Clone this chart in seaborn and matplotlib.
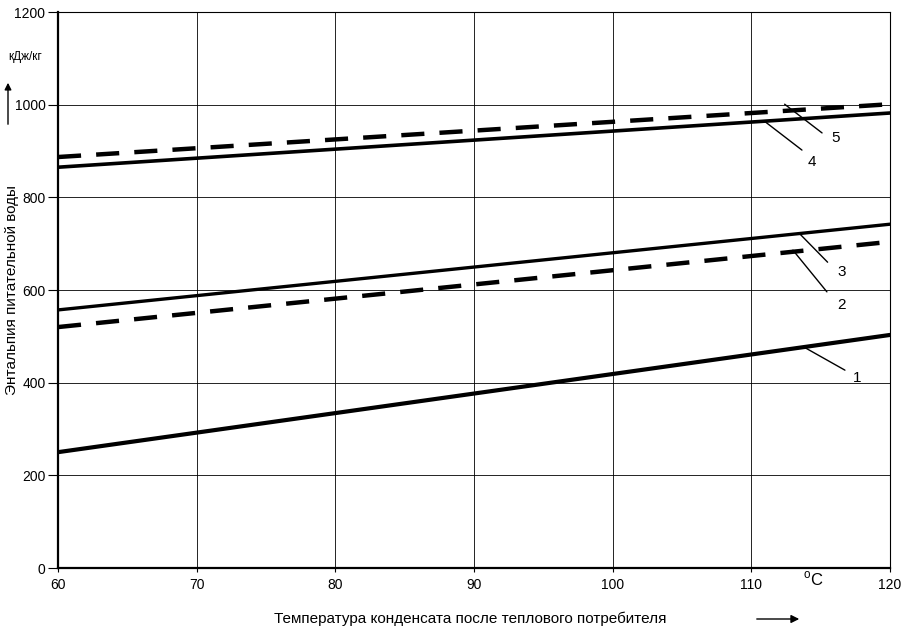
import matplotlib
matplotlib.use("Agg")
import matplotlib.pyplot as plt
import seaborn as sns
import pandas as pd

# Data
temps = [60, 120]
curve1 = [250, 503]
curve2 = [520, 704]
curve3 = [557, 742]
curve4 = [865, 982]
curve5 = [887, 1001]
curve_names = ["1", "2", "3", "4", "5"]
x_ticks = [60, 70, 80, 90, 100, 110, 120]
y_ticks = [0, 200, 400, 600, 800, 1000, 1200]

sns.set_theme(style="white")
plt.rcParams['font.family'] = ['Liberation Sans', 'DejaVu Sans']

rows = []
for name, vals in zip(curve_names, [curve1, curve2, curve3, curve4, curve5]):
    for t, v in zip(temps, vals):
        rows.append({"t": t, "h": v, "curve": name})
df = pd.DataFrame(rows)

fig = plt.figure(figsize=(9.1, 6.3), dpi=100)
ax = fig.add_axes([58/910, 62/630, 832/910, 556/630])

dash_map = {"1": "", "2": (5.2, 3.4), "3": "", "4": "", "5": (5.2, 3.4)}
lw_map = {"1": 3.0, "2": 3.2, "3": 2.4, "4": 2.6, "5": 3.2}
for name in curve_names:
    sub = df[df.curve == name]
    sns.lineplot(data=sub, x="t", y="h", ax=ax, color="black",
                 lw=lw_map[name], legend=False,
                 **({} if dash_map[name] == "" else {"linestyle": (0, dash_map[name])}))

ax.set_xlim(60, 120)
ax.set_ylim(0, 1200)
ax.set_xticks(x_ticks)
ax.set_yticks(y_ticks)
ax.tick_params(axis='y', labelsize=10, colors='black', length=7, width=0.8,
               pad=2, left=True)
ax.tick_params(axis='x', labelsize=10, colors='black', length=3, width=0.8,
               pad=4, bottom=True)
ax.grid(True, color='black', lw=0.6)
for s in ['left', 'bottom']:
    ax.spines[s].set_color('black')
    ax.spines[s].set_linewidth(1.6)
for s in ['right', 'top']:
    ax.spines[s].set_color('black')
    ax.spines[s].set_linewidth(0.8)
ax.set_xlabel("")
ax.set_ylabel("")

# Leader lines and labels
leaders = [
    ("1", (113.9, 475), (116.75, 427), (117.6, 410)),
    ("2", (113.0, 686), (115.45, 596), (116.5, 568)),
    ("3", (113.5, 721), (115.5, 660), (116.5, 639)),
    ("4", (111.0, 963), (113.65, 902), (114.4, 876)),
    ("5", (112.4, 1001), (115.1, 939), (116.1, 928)),
]
for lab, p0, p1, pt in leaders:
    ax.plot([p0[0], p1[0]], [p0[1], p1[1]], color='black', lw=1.0)
    ax.text(pt[0], pt[1], lab, fontsize=11, ha='center', va='center', color='black')

# Axis titles
fig.text(12/910, 1 - 290/630, "Энтальпия питательной воды", rotation=90,
         ha='center', va='center', fontsize=11, color='black')
fig.text(25/910, 1 - 57/630, "кДж/кг", ha='center', va='center',
         fontsize=8.5, color='black')
ax.annotate("", xy=(8/910, 1 - 80/630), xytext=(8/910, 1 - 127/630),
            xycoords='figure fraction', textcoords='figure fraction',
            annotation_clip=False,
            arrowprops=dict(arrowstyle='-|>', color='black', lw=1.0,
                            mutation_scale=10))
fig.text(470/910, 1 - 619/630, "Температура конденсата после теплового потребителя",
         ha='center', va='center', fontsize=11, color='black')
ax.annotate("", xy=(802/910, 1 - 619/630), xytext=(754/910, 1 - 619/630),
            xycoords='figure fraction', textcoords='figure fraction',
            annotation_clip=False,
            arrowprops=dict(arrowstyle='-|>', color='black', lw=1.0,
                            mutation_scale=12))
fig.text(813/910, 1 - 579/630, "$^{\\mathregular{o}}$C", ha='center', va='center',
         fontsize=12, color='black')

fig.savefig("out.png", dpi=100)
